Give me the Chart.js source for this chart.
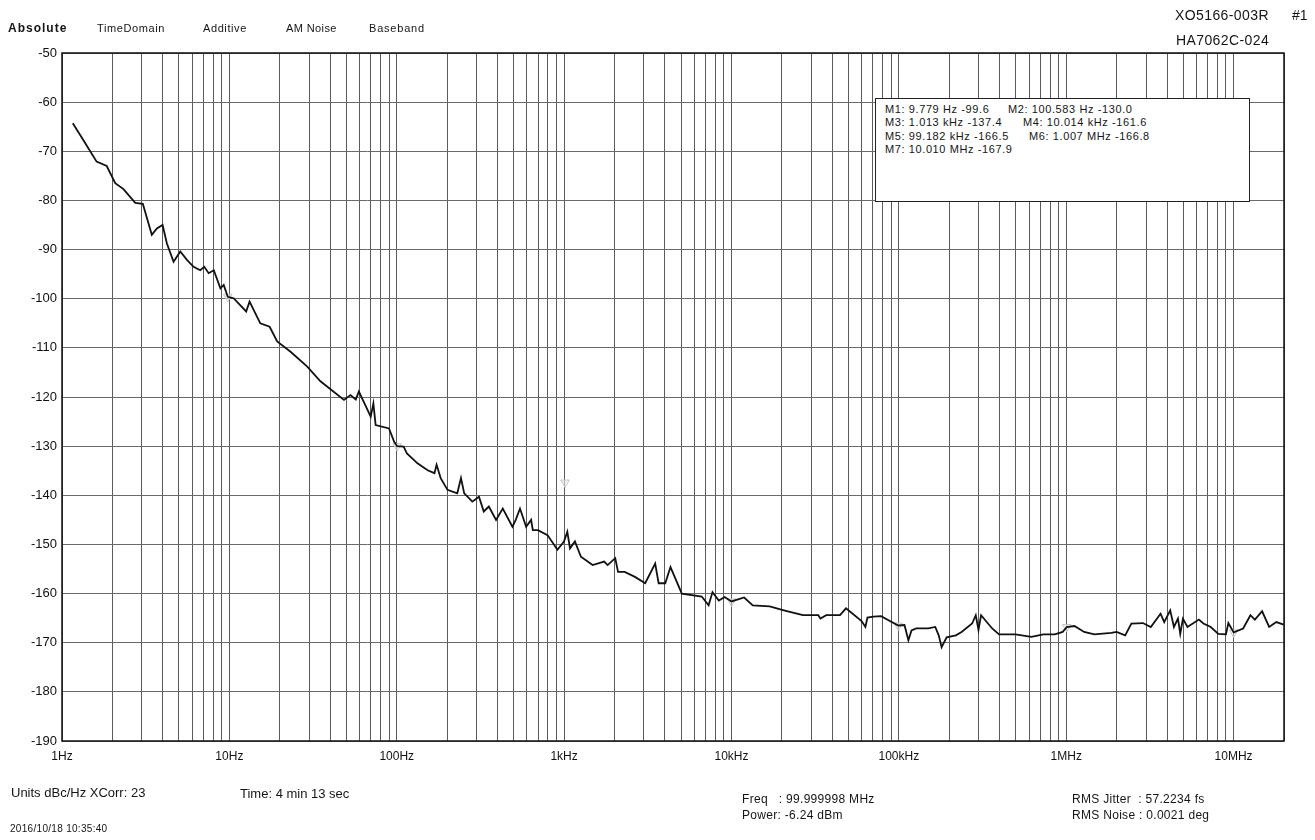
<!DOCTYPE html>
<html>
<head>
<meta charset="utf-8">
<script src="https://cdn.jsdelivr.net/npm/chart.js@4.4.1/dist/chart.umd.min.js"></script>
<style>
  body { margin: 0; background: #fff; }
  #wrap { position: relative; width: 1315px; height: 840px; overflow: hidden; }
  canvas { position: absolute; left: 0; top: 0; }
  .t { position: absolute; font-family: 'Liberation Sans', Arial, sans-serif; color: #151515; white-space: pre; line-height: 1; }
  #mbox { position: absolute; left: 875px; top: 98px; width: 373px; height: 102px; border: 1.5px solid #222; background: #fff; }
</style>
</head>
<body>
<div id="wrap">
  <canvas id="grafico" width="1315" height="840"></canvas>

  <div class="t" style="left:8px;top:22px;font-size:12px;font-weight:bold;letter-spacing:1px">Absolute</div>
  <div class="t" style="left:97px;top:23px;font-size:11px;letter-spacing:0.6px">TimeDomain</div>
  <div class="t" style="left:203px;top:23px;font-size:11px;letter-spacing:0.6px">Additive</div>
  <div class="t" style="left:286px;top:23px;font-size:11px;letter-spacing:0.4px">AM Noise</div>
  <div class="t" style="left:369px;top:23px;font-size:11px;letter-spacing:0.8px">Baseband</div>

  <div class="t" style="left:1175px;top:8px;font-size:14px;letter-spacing:0.4px">XO5166-003R</div>
  <div class="t" style="left:1292px;top:8px;font-size:14px">#1</div>
  <div class="t" style="left:1176px;top:33px;font-size:14px;letter-spacing:0.4px">HA7062C-024</div>

  <div id="mbox"></div>
  <div class="t" style="left:885px;top:104px;font-size:11px;letter-spacing:0.6px">M1: 9.779 Hz -99.6</div>
  <div class="t" style="left:1008px;top:104px;font-size:11px;letter-spacing:0.6px">M2: 100.583 Hz -130.0</div>
  <div class="t" style="left:885px;top:117px;font-size:11px;letter-spacing:0.6px">M3: 1.013 kHz -137.4</div>
  <div class="t" style="left:1023px;top:117px;font-size:11px;letter-spacing:0.6px">M4: 10.014 kHz -161.6</div>
  <div class="t" style="left:885px;top:131px;font-size:11px;letter-spacing:0.6px">M5: 99.182 kHz -166.5</div>
  <div class="t" style="left:1029px;top:131px;font-size:11px;letter-spacing:0.6px">M6: 1.007 MHz -166.8</div>
  <div class="t" style="left:885px;top:144px;font-size:11px;letter-spacing:0.6px">M7: 10.010 MHz -167.9</div>

  <div class="t" style="left:11px;top:786px;font-size:13px">Units dBc/Hz XCorr: 23</div>
  <div class="t" style="left:240px;top:787px;font-size:13px">Time: 4 min 13 sec</div>
  <div class="t" style="left:10px;top:824px;font-size:10px;letter-spacing:0.3px">2016/10/18 10:35:40</div>
  <div class="t" style="left:742px;top:793px;font-size:12px;letter-spacing:0.3px">Freq   : 99.999998 MHz</div>
  <div class="t" style="left:742px;top:809px;font-size:12px;letter-spacing:0.3px">Power: -6.24 dBm</div>
  <div class="t" style="left:1072px;top:793px;font-size:12px;letter-spacing:0.3px">RMS Jitter  : 57.2234 fs</div>
  <div class="t" style="left:1072px;top:809px;font-size:12px;letter-spacing:0.3px">RMS Noise : 0.0021 deg</div>
</div>

<script>
// offset frequency (Hz) and phase noise (dBc/Hz)
const freqs = [
  1.16, 1.34, 1.61, 1.85, 2.08, 2.33, 2.74, 3.04, 3.44, 3.69, 3.99, 4.23, 4.64, 5.09, 5.58, 6.11, 6.7, 7.08, 7.52, 8.07,
  8.84, 9.25, 9.78, 10.6, 12.6, 13.2, 15.3, 17.4, 19.3, 23.2, 29.2, 35, 48.4, 52.9, 56.9, 59.4, 62.5, 69.9, 72.5, 74.8,
  89.9, 96.5, 100.6, 110, 115, 133, 153, 168, 173, 183, 201, 230, 242, 253, 283, 310, 331, 355, 392, 430,
  491, 514, 545, 593, 635, 650, 697, 796, 912, 998, 1045, 1084, 1160, 1260, 1480, 1735, 1820, 2020, 2100, 2300,
  2650, 3050, 3500, 3670, 4020, 4320, 5050, 6640, 7300, 7700, 8400, 9100, 10000, 11900, 13400, 16900, 21100, 26700, 33000, 34000,
  36800, 44500, 48300, 59900, 63100, 64900, 70400, 78300, 89500, 99200, 108000, 114000, 119000, 127000, 150000, 165000, 173000, 180000, 193000, 219000,
  237000, 274000, 288000, 299000, 310000, 361000, 397000, 497000, 619000, 730000, 855000, 952000, 1007000, 1120000, 1280000, 1470000, 1860000, 2000000, 2250000, 2450000,
  2870000, 3200000, 3660000, 3850000, 4180000, 4400000, 4650000, 4800000, 4980000, 5300000, 6200000, 6600000, 7300000, 8100000, 9000000, 9300000, 10010000, 11400000, 12600000, 13400000,
  14800000, 16300000, 18000000, 19900000
];
const noise = [
  -64.3, -67.7, -72.1, -73.0, -76.5, -77.7, -80.5, -80.7, -87.0, -85.7, -85.0, -88.7, -92.5, -90.4, -92.1, -93.5, -94.2, -93.5, -94.8, -94.2,
  -97.9, -97.2, -99.6, -99.9, -102.6, -100.6, -105.0, -105.7, -108.7, -110.8, -113.8, -116.8, -120.6, -119.6, -120.5, -118.9, -120.5, -124.0, -121.3, -125.7,
  -126.4, -129.1, -130.0, -130.1, -131.5, -133.5, -134.9, -135.5, -133.8, -136.5, -138.9, -139.6, -136.5, -139.6, -141.3, -140.3, -143.3, -142.3, -145.0, -142.7,
  -146.4, -145.0, -142.7, -146.4, -145.0, -147.1, -147.1, -148.1, -151.1, -149.4, -147.4, -150.8, -149.4, -152.5, -154.2, -153.5, -154.2, -152.8, -155.6, -155.6,
  -156.6, -157.9, -153.9, -157.9, -157.9, -154.6, -160.0, -160.6, -162.4, -159.7, -161.4, -160.7, -161.6, -160.8, -162.4, -162.6, -163.5, -164.4, -164.4, -165.1,
  -164.4, -164.4, -163.0, -165.6, -166.8, -164.9, -164.7, -164.6, -165.7, -166.5, -166.4, -169.5, -167.5, -167.1, -167.1, -166.8, -168.5, -170.9, -168.9, -168.5,
  -167.8, -166.1, -164.4, -167.4, -164.4, -167.1, -168.3, -168.3, -168.8, -168.3, -168.3, -167.8, -166.8, -166.6, -167.8, -168.3, -168.0, -167.8, -168.5, -166.1,
  -166.0, -166.8, -164.1, -165.8, -163.4, -166.8, -165.1, -168.2, -165.1, -166.8, -165.3, -166.1, -166.8, -168.2, -168.3, -166.0, -167.9, -167.1, -164.4, -165.3,
  -163.6, -166.8, -165.8, -166.3
];

// markers M1..M7
const markerFreqs = [9.779, 100.583, 1013, 10014, 99182, 1007000, 10010000];
const markerVals = [-99.6, -130.0, -137.4, -161.6, -166.5, -166.8, -167.9];

// axis
const decadeTicks = [1, 10, 100, 1000, 10000, 100000, 1000000, 10000000];
const decadeLabels = ['1Hz', '10Hz', '100Hz', '1kHz', '10kHz', '100kHz', '1MHz', '10MHz'];
const yTicks = [-50, -60, -70, -80, -90, -100, -110, -120, -130, -140, -150, -160, -170, -180, -190];

// log grid: 1..9 per decade, up to 20 MHz
const gridValues = [];
for (let d = 0; d < 7; d++) {
  for (let k = 1; k <= 9; k++) gridValues.push(k * Math.pow(10, d));
}
gridValues.push(1e7, 2e7);

const frame = {
  id: 'frame',
  afterDatasetsDraw(chart) {
    const a = chart.chartArea, ctx = chart.ctx;
    ctx.save();
    ctx.strokeStyle = '#111';
    ctx.lineWidth = 1.5;
    ctx.strokeRect(a.left, a.top, a.right - a.left, a.bottom - a.top);
    ctx.restore();
  }
};

document.addEventListener('DOMContentLoaded', () => {
  const ctx = document.getElementById('grafico');
  new Chart(ctx, {
    type: 'line',
    data: {
      datasets: [
        {
          label: 'Phase noise',
          data: freqs.map((f, i) => ({ x: f, y: noise[i] })),
          borderColor: '#111',
          borderWidth: 1.8,
          pointRadius: 0,
          tension: 0
        },
        {
          label: 'Markers',
          data: markerFreqs.map((f, i) => ({ x: f, y: markerVals[i] })),
          showLine: false,
          pointStyle: 'triangle',
          rotation: 180,
          pointRadius: 5,
          borderWidth: 1,
          borderColor: '#c8c8c8',
          backgroundColor: 'rgba(230,230,230,0.6)'
        }
      ]
    },
    options: {
      responsive: false,
      animation: false,
      devicePixelRatio: 1,
      layout: { padding: { left: 0, top: 53, right: 31, bottom: 0 } },
      plugins: { legend: { display: false }, tooltip: { enabled: false } },
      scales: {
        x: {
          type: 'logarithmic',
          min: 1,
          max: 2e7,
          afterBuildTicks: axis => { axis.ticks = gridValues.map(v => ({ value: v })); },
          afterFit: s => { s.height = 99; },
          grid: { color: '#5a5a5a', lineWidth: 1, drawTicks: false },
          border: { display: false },
          ticks: {
            autoSkip: false,
            maxRotation: 0,
            padding: 8,
            color: '#111',
            font: { family: "'Liberation Sans', Arial, sans-serif", size: 12 },
            callback: v => {
              const i = decadeTicks.findIndex(t => Math.abs(Math.log10(t) - Math.log10(v)) < 1e-6);
              return i >= 0 ? decadeLabels[i] : '';
            }
          }
        },
        y: {
          min: -190,
          max: -50,
          afterBuildTicks: axis => { axis.ticks = yTicks.map(v => ({ value: v })); },
          afterFit: s => { s.width = 62; },
          grid: { color: '#6a6a6a', lineWidth: 1, drawTicks: false },
          border: { display: false },
          ticks: {
            padding: 5,
            color: '#111',
            font: { family: "'Liberation Sans', Arial, sans-serif", size: 13 }
          }
        }
      }
    },
    plugins: [frame]
  });
});
</script>
</body>
</html>
